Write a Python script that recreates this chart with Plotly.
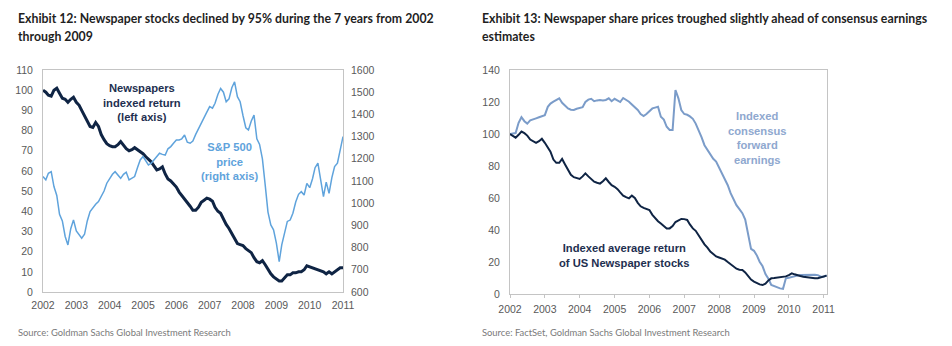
import pandas as pd
import plotly.graph_objects as go

# ---- Exhibit 12 data (monthly, Jan 2002 - Jan 2011) ----
news_idx_left = [
    100, 99, 97.5, 97, 100, 101, 98.5, 96, 95.5, 94, 95.5, 96.5,
    94, 92.5, 90, 87.5, 84.5, 82, 81.5, 84, 82, 78, 75.5, 73.5,
    72.5, 72, 72, 73, 74.5, 72.5, 71, 70, 70.5, 71.5, 70.5, 69.5,
    68.5, 67, 66, 64.5, 62.5, 60.5, 61, 62, 58.5, 56, 55, 53.5,
    52, 49.5, 48, 46, 44.5, 42.5, 40.5, 40.5, 42, 44.5, 45.5, 46.5,
    46, 45, 42, 40, 39, 36, 33.5, 31.5, 29, 26.5, 24, 23.5,
    23, 21.5, 20.5, 19.5, 17, 15, 14.5, 15.5, 13.5, 11, 9, 7.5,
    6.5, 5.5, 5.5, 7, 8.5, 8.5, 9.5, 9.5, 10, 10, 11, 13,
    12.5, 12, 11.5, 11, 10.5, 10, 9, 10, 9, 10, 11, 12,
    12,
]
sp500 = [
    1120, 1105, 1135, 1142, 1075, 1035, 950, 920, 850, 812, 885, 925,
    875, 855, 842, 860, 920, 962, 980, 995, 1007, 1030, 1055, 1090,
    1112, 1130, 1142, 1125, 1112, 1130, 1140, 1105, 1112, 1120, 1160, 1195,
    1210, 1187, 1172, 1180, 1195, 1210, 1225, 1220, 1217, 1245, 1255, 1270,
    1285, 1285, 1290, 1307, 1275, 1270, 1280, 1310, 1337, 1360, 1385, 1410,
    1435, 1428, 1450, 1490, 1517, 1500, 1457, 1470, 1520, 1547, 1480, 1457,
    1395, 1340, 1330, 1370, 1397, 1290, 1265, 1200, 1080, 960, 902, 880,
    820, 737, 812, 872, 918, 924, 955, 1005, 1040, 1052, 1037, 1089,
    1070, 1110, 1160, 1180, 1112, 1030, 1095, 1044, 1115, 1165, 1180, 1245,
    1300,
]

# ---- Exhibit 13 data (monthly, Jan 2002 - Feb 2011) ----
fwd_earnings = [
    100, 100.2, 100.6, 107, 110.5, 108, 106.5, 108.5, 109, 109.8, 110.5, 111,
    111.8, 117, 119, 120.2, 121, 122.3, 119.5, 117.5, 116, 115.2, 115, 115.8,
    116.2, 116.8, 120, 121.5, 122, 120.5, 121, 121.3, 121, 121.3, 122.3, 120.5,
    122, 121, 120, 122.5, 121.5, 120.2, 118.5, 117, 115, 112.5, 111.2, 112.5,
    114.5, 116, 116.5, 117, 110.8, 109, 104.5, 102.5, 102.5, 127.5, 122.3, 115,
    112.5, 112, 111, 109.5, 106.5, 102.5, 98, 93, 90, 87, 84.5, 82.8,
    79, 75.5, 71.5, 68, 63, 59, 55.5, 53, 50.5, 46.5, 36, 28.2,
    27, 24, 20.2, 17.3, 12.5, 9.5, 5.6, 4.8, 4.2, 3.5, 3.2, 9.8,
    10.2, 10.5, 11, 11.5, 11.9, 11.9, 11.9, 12.2, 12.3, 12.1, 11.8, 10.8,
    10.8, 11.7,
]
news_idx_right = [
    100, 98.5, 97.7, 99.5, 101.5, 100.5, 99, 96.5, 95.5, 94.5, 95.5, 97,
    94.5, 92, 89, 84, 82, 82, 84.4, 81, 78, 74.5, 73, 72.3,
    71.9, 73.5, 75.4, 73.5, 72, 70.2, 69.5, 69, 70.5, 72.3, 70, 68,
    67, 65.5, 63.5, 61.5, 60.5, 59.8, 61.5, 60, 57, 54.8, 53.8, 53,
    52.5, 49.5, 47.3, 45.5, 44, 42.5, 41, 41, 42.5, 45, 46, 46.9,
    46.8, 46.3, 43.5, 41, 39.5, 36.5, 33.8, 31, 29, 26.5, 25, 23.5,
    22.8, 22, 21.5, 20, 18.5, 16.8, 15.8, 15.2, 15, 13.5, 11, 9,
    7.8, 6.7, 6, 5.6, 6.5, 8.5, 9.8, 10, 10.3, 10.5, 10.8, 11,
    11.8, 12.9, 12.3, 11.5, 11.2, 10.8, 10.5, 10.2, 10, 9.8, 9.9, 10.4,
    11, 11.5,
]

years = list(range(2002, 2012))
months_left = pd.date_range("2002-01-01", periods=len(news_idx_left), freq="MS")
months_right = pd.date_range("2002-01-01", periods=len(fwd_earnings), freq="MS")
year_ticks = [f"{y}-01-01" for y in years]
year_text = [str(y) for y in years]

NAVY = "#0f2444"
SKY = "#5fa3dc"
STEEL = "#7b9cc9"
FRAME = "#c4c4c4"
TICKFONT = dict(family="Liberation Sans, Arial, sans-serif", size=10.5, color="#595959")

fig = go.Figure()

fig.add_trace(go.Scatter(x=months_left, y=sp500, mode="lines", xaxis="x", yaxis="y2",
                         line=dict(color=SKY, width=1.5), showlegend=False))
fig.add_trace(go.Scatter(x=months_left, y=news_idx_left, mode="lines", xaxis="x", yaxis="y",
                         line=dict(color=NAVY, width=3), showlegend=False))
fig.add_trace(go.Scatter(x=months_right, y=fwd_earnings, mode="lines", xaxis="x2", yaxis="y3",
                         line=dict(color=STEEL, width=2), showlegend=False))
fig.add_trace(go.Scatter(x=months_right, y=news_idx_right, mode="lines", xaxis="x2", yaxis="y3",
                         line=dict(color=NAVY, width=2), showlegend=False))

W, H = 952, 346
def px_x(p):
    return p / W
def px_y(p):
    return 1 - p / H

axis_common = dict(showgrid=False, zeroline=False, showline=True, linecolor=FRAME,
                   linewidth=1, mirror=True, tickfont=TICKFONT, automargin=False)

fig.update_layout(
    template="none",
    width=W, height=H,
    margin=dict(l=0, r=0, t=0, b=0, pad=0),
    paper_bgcolor="white", plot_bgcolor="white",
    xaxis=dict(domain=[px_x(43), px_x(343)], anchor="y", type="date",
               range=["2002-01-01", "2011-01-01"], tickvals=year_ticks, ticktext=year_text,
               ticks="", ticklabelstandoff=3, **axis_common),
    yaxis=dict(domain=[px_y(292), px_y(70)], anchor="x", range=[0, 110], dtick=10,
               ticks="", ticklabelstandoff=7, **axis_common),
    yaxis2=dict(overlaying="y", side="right", anchor="x", range=[600, 1600], dtick=100,
                showgrid=False, zeroline=False, showline=False, ticks="", automargin=False,
                ticklabelstandoff=7, tickfont=TICKFONT),
    xaxis2=dict(domain=[px_x(510), px_x(827)], anchor="y3", type="date",
                range=["2002-01-01", "2011-02-05"], tickvals=year_ticks, ticktext=year_text,
                ticks="outside", ticklen=3, tickcolor=FRAME, ticklabelstandoff=2, **axis_common),
    yaxis3=dict(domain=[px_y(294), px_y(70)], anchor="x2", range=[0, 140], dtick=20,
                ticks="", ticklabelstandoff=7, **axis_common),
)

TITLE_FONT = dict(family="Lato, sans-serif", size=12.3, color="#1f1f1f")
SRC_FONT = dict(family="Lato, sans-serif", size=9.4, color="#7a7a7a")

def paper_text(x, y, text, font, xanchor="left"):
    fig.add_annotation(x=px_x(x), y=px_y(y), xref="paper", yref="paper", text=text,
                       showarrow=False, xanchor=xanchor, yanchor="middle", font=font)

paper_text(16, 19, "<b>Exhibit 12: Newspaper stocks declined by 95% during the 7 years from 2002</b>", TITLE_FONT)
paper_text(16, 36, "<b>through 2009</b>", TITLE_FONT)
paper_text(480, 19, "<b>Exhibit 13: Newspaper share prices troughed slightly ahead of consensus earnings</b>", TITLE_FONT)
paper_text(480, 36, "<b>estimates</b>", TITLE_FONT)
paper_text(16, 332, "Source: Goldman Sachs Global Investment Research", SRC_FONT)
paper_text(480, 332, "Source: FactSet, Goldman Sachs Global Investment Research", SRC_FONT)

LABEL = "Liberation Sans, Arial, sans-serif"

def series_label(x, y, text, color):
    fig.add_annotation(x=px_x(x), y=px_y(y), xref="paper", yref="paper", showarrow=False,
                       text=text, xanchor="center", yanchor="middle", align="center",
                       font=dict(family=LABEL, size=11.2, color=color))

series_label(142, 103, "<b>Newspapers<br>indexed return<br>(left axis)</b>", "#1e2f50")
series_label(229, 161, "<b>S&P 500<br>price<br>(right axis)</b>", SKY)
series_label(757, 138, "<b>Indexed<br>consensus<br>forward<br>earnings</b>", "#8fa8cf")
series_label(624, 255, "<b>Indexed average return<br>of US Newspaper stocks</b>", "#1e2f50")

fig.write_html("out.html")
